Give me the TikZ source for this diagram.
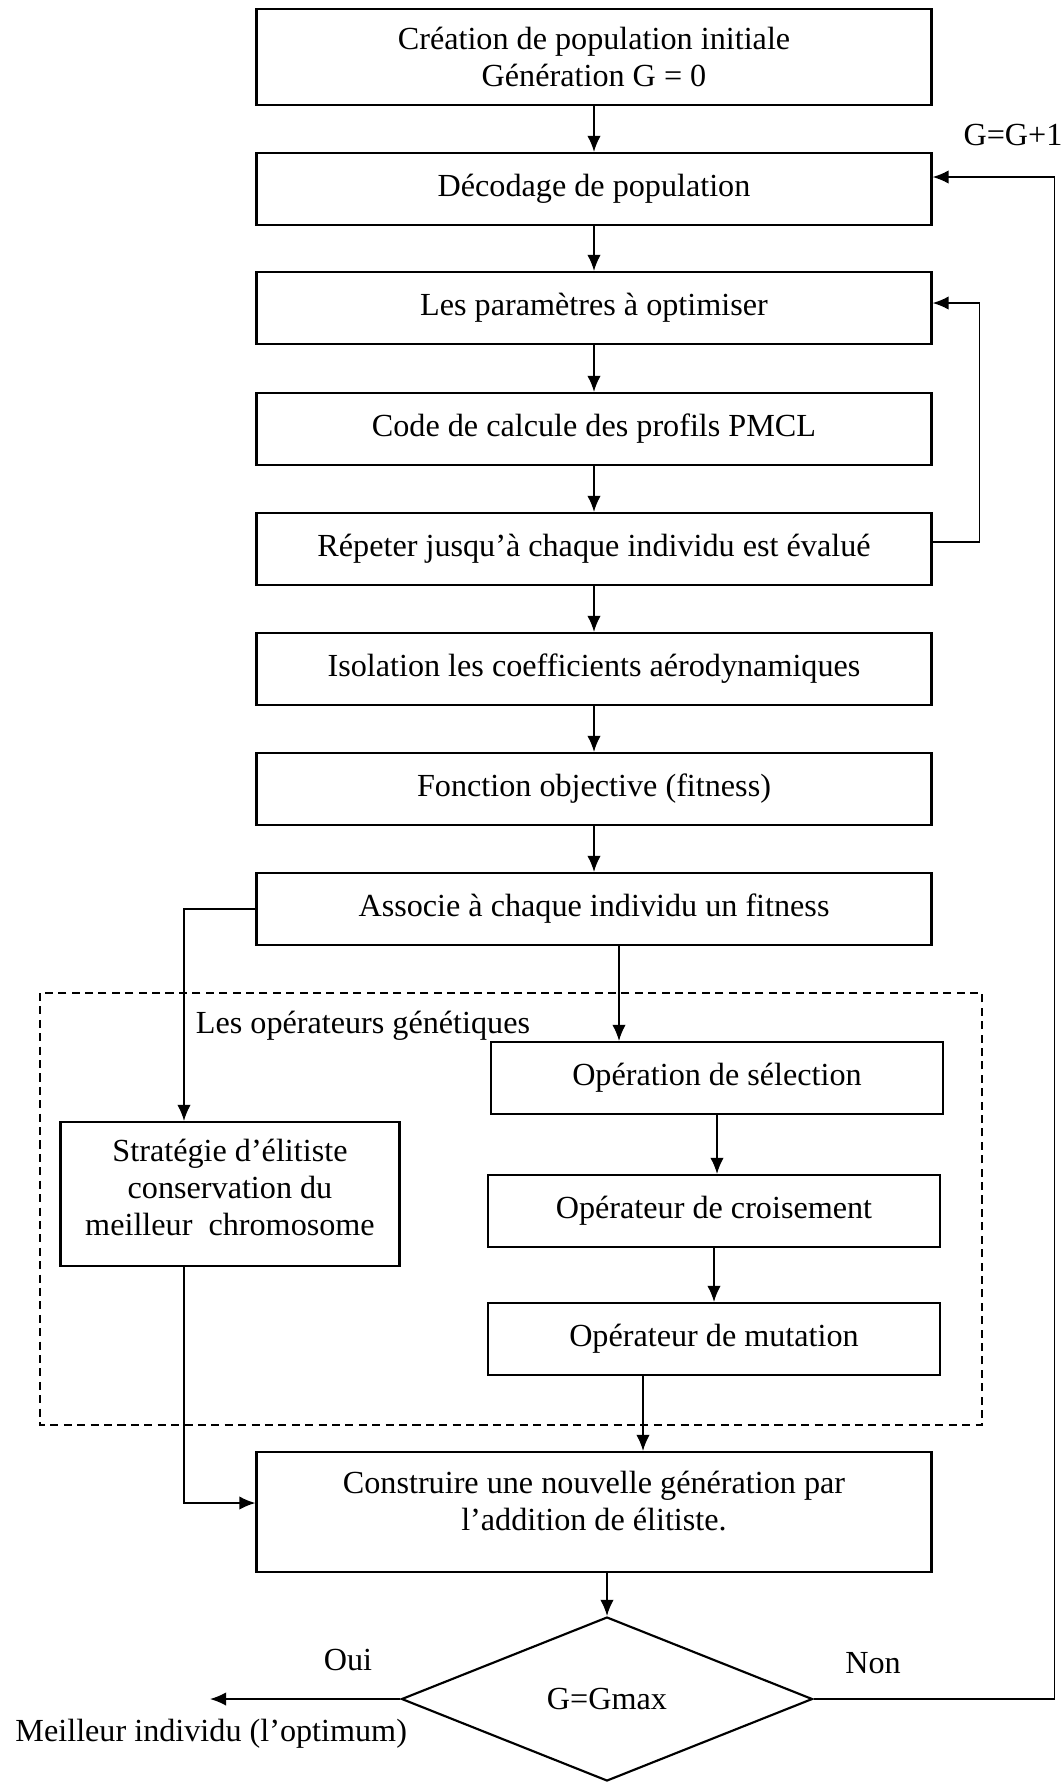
\documentclass[tikz,border=0pt]{standalone}
\usepackage{fontspec}
\setmainfont{Liberation Serif}
\usetikzlibrary{arrows.meta,positioning,calc,shapes.geometric}

\newdimen\pxl
\pxl=0.0131cm

\tikzset{
	etape/.style = {draw, line width=0.8pt, minimum width=675\pxl, minimum height=72\pxl, inner sep=2pt, align=center},
	operateur/.style = {etape, minimum width=452\pxl},
	fleche/.style = {line width=0.6pt, -{Latex[length=6pt,width=5pt]}},
	trait/.style = {line width=0.6pt}
}

\begin{document}
\begin{tikzpicture}[x=\pxl, y=-\pxl, font=\fontsize{12}{13.8}\selectfont]
		\useasboundingbox (0,0) rectangle (1062,1782);
		% boucle principale
		\node[etape, minimum height=96\pxl] (init) at (594,57) {Création de population initiale\\Génération G = 0};
		\node[etape] (decodage) at (594,189) {Décodage de population};
		\node[etape] (parametres) at (594,308) {Les paramètres à optimiser};
		\node[etape] (calcul) at (594,429) {Code de calcule des profils PMCL};
		\node[etape] (repeter) at (594,549) {Répeter jusqu’à chaque individu est évalué};
		\node[etape] (isolation) at (594,669) {Isolation les coefficients aérodynamiques};
		\node[etape] (fonction) at (594,789) {Fonction objective (fitness)};
		\node[etape] (associe) at (594,909) {Associe à chaque individu un fitness};
		% operateurs genetiques
		\draw[trait, dash pattern=on 3pt off 2pt] (40,993) rectangle (982,1425);
		\node (titre) at (363,1026) {Les opérateurs génétiques};
		\node[operateur] (selection) at (717,1078) {Opération de sélection};
		\node[operateur] (croisement) at (714,1211) {Opérateur de croisement};
		\node[operateur] (mutation) at (714,1339) {Opérateur de mutation};
		\node[etape, minimum width=339\pxl, minimum height=144\pxl] (elitiste) at (230,1194) {Stratégie d’élitiste\\conservation du\\meilleur\ \ chromosome\\[-8.6pt]};
		\node[etape, minimum height=120\pxl] (construire) at (594,1512) {Construire une nouvelle génération par\\l’addition de élitiste.\\[-5.6pt]};
		\node[draw, diamond, line width=0.8pt, inner sep=0pt, minimum width=411\pxl, minimum height=164\pxl] (test) at (607,1699) {G=Gmax};
		\coordinate (sortie) at (210,1699);
		% textes
		\node (gplus) at (1013,135) {G=G+1};
		\node (oui) at (348,1660) {Oui};
		\node (non) at (873,1663) {Non};
		\node[anchor=west] (meilleur) at (6,1734) {Meilleur individu (l’optimum)};
		% fleches
		\draw[fleche] (init) -- (decodage);
		\draw[fleche] (decodage) -- (parametres);
		\draw[fleche] (parametres) -- (calcul);
		\draw[fleche] (calcul) -- (repeter);
		\draw[fleche] (repeter) -- (isolation);
		\draw[fleche] (isolation) -- (fonction);
		\draw[fleche] (fonction) -- (associe);
		\draw[fleche] ($(repeter.east)+(0,-7)$) -| ($(parametres.east)+(47,-5)$) -- ($(parametres.east)+(0,-5)$);
		\draw[fleche] ($(associe.south)+(25,0)$) coordinate (a) -- (a |- selection.north);
		\draw[fleche] (associe.west) -| ($(elitiste.north)+(-46,0)$);
		\draw[fleche] (selection.south) -- (selection.south |- croisement.north);
		\draw[fleche] (croisement.south) -- (croisement.south |- mutation.north);
		\draw[fleche] ($(mutation.south)+(-71,0)$) coordinate (m) -- (m |- construire.north);
		\draw[fleche] ($(elitiste.south)+(-46,0)$) |- ($(construire.west)+(0,-9)$);
		\draw[fleche] (construire.south -| test.north) -- (test.north);
		\draw[fleche] (test.west) -- (sortie);
		\draw[fleche] (test.east) -| ($(decodage.east)+(122,-12)$) -- ($(decodage.east)+(0,-12)$);
	\end{tikzpicture}
\end{document}
